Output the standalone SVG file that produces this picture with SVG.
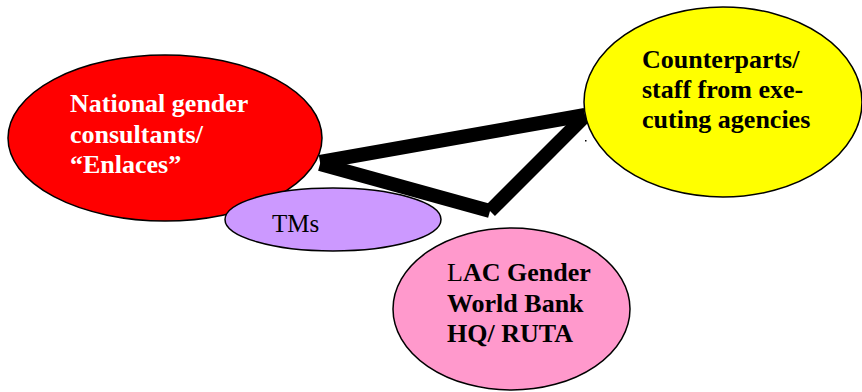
<svg xmlns="http://www.w3.org/2000/svg" width="862" height="392" viewBox="0 0 862 392">
<style>
.node{stroke:#000;stroke-width:1.5}
.lbl{font-family:"Liberation Serif","Times New Roman",serif;font-size:26px;font-weight:bold}
.conn{stroke:#000;stroke-width:14;stroke-linecap:butt;fill:none}
</style>
<rect width="862" height="392" fill="#fff"/>
<g id="connectors">
<line class="conn" x1="320" y1="162" x2="585" y2="115"/>
<line class="conn" x1="320" y1="164" x2="490" y2="211"/>
<line class="conn" x1="490" y1="211" x2="585" y2="116"/>
<rect x="585" y="140" width="1.5" height="1.5" fill="#000"/>
</g>
<g id="national">
<ellipse class="node" cx="165" cy="138" rx="157" ry="83" fill="#FF0000"/>
<text class="lbl" fill="#fff"><tspan x="70" y="112">National gender</tspan><tspan x="70" y="143">consultants/</tspan><tspan x="70" y="173">“Enlaces”</tspan></text>
</g>
<g id="counterparts">
<ellipse class="node" cx="723" cy="102" rx="139" ry="95" fill="#FFFF00"/>
<text class="lbl" fill="#000"><tspan x="642" y="68">Counterparts/</tspan><tspan x="642" y="98">staff from exe-</tspan><tspan x="642" y="128">cuting agencies</tspan></text>
</g>
<g id="tms">
<ellipse class="node" cx="333" cy="219.5" rx="108" ry="31.5" fill="#CC99FF"/>
<text x="272" y="232" font-family="Liberation Serif,'Times New Roman',serif" font-size="25" fill="#000">TMs</text>
</g>
<g id="lac">
<ellipse class="node" cx="511.5" cy="309" rx="118.5" ry="81" fill="#FF99CC"/>
<text class="lbl" fill="#000"><tspan x="447" y="281"><tspan font-weight="normal">L</tspan>AC Gender</tspan><tspan x="447" y="312">World Bank</tspan><tspan x="447" y="342">HQ/ RUTA</tspan></text>
</g>
</svg>
